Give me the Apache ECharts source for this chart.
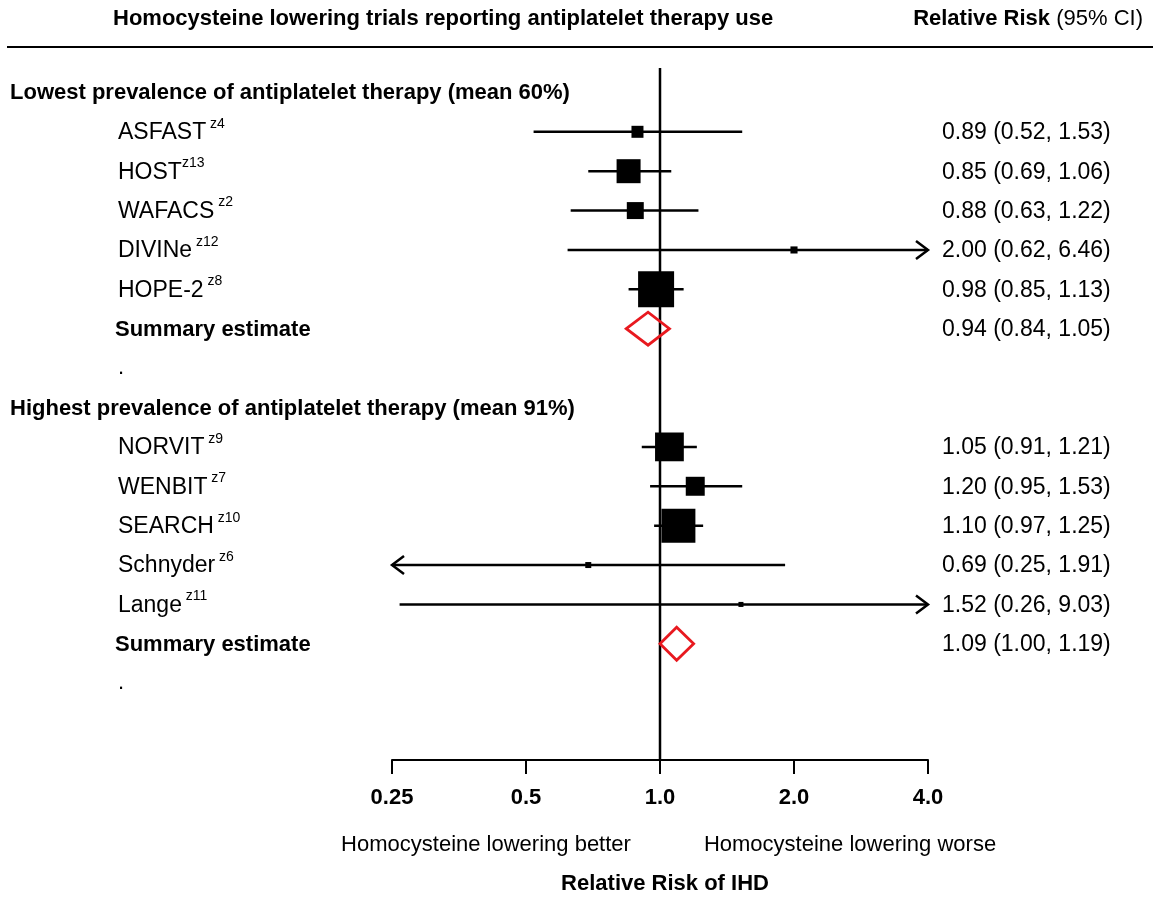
<!DOCTYPE html>
<html>
<head>
<meta charset="utf-8">
<script src="https://cdn.jsdelivr.net/npm/echarts@6/dist/echarts.min.js"></script>
<style>html,body{margin:0;padding:0;background:#fff}#c{width:1153px;height:900px}</style>
</head>
<body>
<div id="c"></div>
<script>
// ---- data ----
const studyNames  = ['ASFAST', 'HOST', 'WAFACS', 'DIVINe', 'HOPE-2', 'NORVIT', 'WENBIT', 'SEARCH', 'Schnyder', 'Lange'];
const studyRefs   = [' z4', 'z13', ' z2', ' z12', ' z8', ' z9', ' z7', ' z10', ' z6', ' z11'];
const studyRow    = [1, 2, 3, 4, 5, 9, 10, 11, 12, 13];
const studyRR     = [0.89, 0.85, 0.88, 2.00, 0.98, 1.05, 1.20, 1.10, 0.69, 1.52];
const studyLo     = [0.52, 0.69, 0.63, 0.62, 0.85, 0.91, 0.95, 0.97, 0.25, 0.26];
const studyHi     = [1.53, 1.06, 1.22, 6.46, 1.13, 1.21, 1.53, 1.25, 1.91, 9.03];
const studyWeight = [4, 16, 8, 1.4, 36, 23, 10, 32, 1, 0.7];

const summaryLabel = 'Summary estimate';
const summaryRow = [6, 14];
const summaryRR  = [0.94, 1.09];
const summaryLo  = [0.84, 1.00];
const summaryHi  = [1.05, 1.19];

const groupHeaders = ['Lowest prevalence of antiplatelet therapy (mean 60%)', 'Highest prevalence of antiplatelet therapy (mean 91%)'];
const headerRow = [0, 8];
const dotRow = [7, 15];

const xTicks = [0.25, 0.5, 1, 2, 4];
const xTickLabels = ['0.25', '0.5', '1.0', '2.0', '4.0'];
const X_MIN = 0.25, X_MAX = 4;

// ---- chart ----
const FONT = '"Liberation Sans", Arial, Helvetica, sans-serif';
const SIDE_K = 6;
const fmt = v => v.toFixed(2);

function txt(x, y, text, extra) {
  return {
    type: 'text',
    style: Object.assign({
      x: x, y: y, text: text, fill: '#000',
      fontFamily: FONT, fontSize: 22,
      align: 'left', textAlign: 'left',
      verticalAlign: 'middle', textVerticalAlign: 'middle'
    }, extra || {})
  };
}

function renderStudy(params, api) {
  const rr = api.value(0), row = api.value(1), lo = api.value(2), hi = api.value(3), w = api.value(4), idx = api.value(5);
  const loC = Math.max(lo, X_MIN), hiC = Math.min(hi, X_MAX);
  const p = api.coord([rr, row]);
  const pl = api.coord([loC, row]);
  const ph = api.coord([hiC, row]);
  const y = p[1];
  const side = SIDE_K * Math.sqrt(w);
  const lw = 2.5;
  const children = [
    { type: 'line', shape: { x1: pl[0], y1: y, x2: ph[0], y2: y }, style: { stroke: '#000', lineWidth: lw } },
    { type: 'rect', shape: { x: p[0] - side / 2, y: y - side / 2, width: side, height: side }, style: { fill: '#000' } }
  ];
  if (hi >= X_MAX) {
    children.push({ type: 'polyline', shape: { points: [[ph[0] - 12, y - 9], [ph[0], y], [ph[0] - 12, y + 9]] }, style: { stroke: '#000', lineWidth: lw, fill: null } });
  }
  if (lo <= X_MIN) {
    children.push({ type: 'polyline', shape: { points: [[pl[0] + 12, y - 9], [pl[0], y], [pl[0] + 12, y + 9]] }, style: { stroke: '#000', lineWidth: lw, fill: null } });
  }
  children.push(txt(118, y + 1, '{n|' + studyNames[idx] + '}{s|' + studyRefs[idx] + '}', {
    rich: {
      n: { fontFamily: FONT, fontSize: 23, lineHeight: 32, fill: '#000', color: '#000' },
      s: { fontFamily: FONT, fontSize: 14, lineHeight: 14, verticalAlign: 'top', fill: '#000', color: '#000' }
    }
  }));
  children.push(txt(942, y + 1, fmt(rr) + ' (' + fmt(lo) + ', ' + fmt(hi) + ')', { fontSize: 23 }));
  return { type: 'group', children: children };
}

function renderSummary(params, api) {
  const rr = api.value(0), row = api.value(1), lo = api.value(2), hi = api.value(3);
  const p = api.coord([rr, row]), pl = api.coord([lo, row]), ph = api.coord([hi, row]);
  const y = p[1], hh = 16.5;
  return {
    type: 'group',
    children: [
      { type: 'polygon', shape: { points: [[pl[0], y], [p[0], y - hh], [ph[0], y], [p[0], y + hh]] }, style: { stroke: '#e8191f', lineWidth: 2.8, fill: null }, z2: 5 },
      txt(115, y + 1, summaryLabel, { fontWeight: 'bold' }),
      txt(942, y + 1, fmt(rr) + ' (' + fmt(lo) + ', ' + fmt(hi) + ')', { fontSize: 23 })
    ]
  };
}

function renderHeader(params, api) {
  const row = api.value(0), idx = api.value(1), kind = api.value(2);
  const y = api.coord([1, row])[1];
  if (kind === 0) return txt(10, y + 1, groupHeaders[idx], { fontWeight: 'bold' });
  return txt(118, y, '.');
}

const studyData = studyRR.map((v, i) => [v, studyRow[i], studyLo[i], studyHi[i], studyWeight[i], i]);
const summaryData = summaryRR.map((v, i) => [v, summaryRow[i], summaryLo[i], summaryHi[i]]);
const headerData = headerRow.map((r, i) => [r, i, 0]).concat(dotRow.map((r, i) => [r, i, 1]));

const chart = echarts.init(document.getElementById('c'), null, { renderer: 'canvas' });
chart.setOption({
  backgroundColor: '#fff',
  animation: false,
  grid: { left: 392, right: 225, top: 68, bottom: 134, containLabel: false },
  xAxis: {
    type: 'log', logBase: 2, min: X_MIN, max: X_MAX,
    splitLine: { show: false },
    minorTick: { show: false },
    axisLine: { show: true, onZero: false, lineStyle: { color: '#000', width: 2 } },
    axisTick: { show: true, length: 14, lineStyle: { color: '#000', width: 2 } },
    axisLabel: {
      margin: 27, color: '#000', fontFamily: FONT, fontSize: 22, fontWeight: 'bold',
      formatter: function (v) {
        for (let i = 0; i < xTicks.length; i++) if (Math.abs(v - xTicks[i]) < 1e-6) return xTickLabels[i];
        return '';
      }
    },
    name: 'Relative Risk of IHD', nameLocation: 'middle', nameGap: 113,
    nameTextStyle: { color: '#000', fontFamily: FONT, fontSize: 22, fontWeight: 'bold', padding: [0, 0, 0, 10] }
  },
  yAxis: { type: 'value', min: -0.62, max: 16.95, inverse: true, show: false, splitLine: { show: false } },
  graphic: [
    txt(113, 19, 'Homocysteine lowering trials reporting antiplatelet therapy use', { fontWeight: 'bold' }),
    txt(1143, 19, '{b|Relative Risk} {n|(95% CI)}', {
      align: 'right', textAlign: 'right',
      rich: {
        b: { fontFamily: FONT, fontSize: 22, fontWeight: 'bold', fill: '#000', color: '#000' },
        n: { fontFamily: FONT, fontSize: 22, fill: '#000', color: '#000' }
      }
    }),
    { type: 'line', shape: { x1: 7, y1: 47, x2: 1153, y2: 47 }, style: { stroke: '#000', lineWidth: 2 } },
    txt(486, 845, 'Homocysteine lowering better', { align: 'center', textAlign: 'center' }),
    txt(850, 845, 'Homocysteine lowering worse', { align: 'center', textAlign: 'center' })
  ],
  series: [
    {
      type: 'line', z: 1, symbol: 'none', silent: true,
      data: [[1, -0.62], [1, 16.95]],
      lineStyle: { color: '#000', width: 2.5 }
    },
    { type: 'custom', z: 2, clip: false, silent: true, renderItem: renderStudy, data: studyData, encode: { x: 0, y: 1 } },
    { type: 'custom', z: 3, clip: false, silent: true, renderItem: renderSummary, data: summaryData, encode: { x: 0, y: 1 } },
    { type: 'custom', z: 2, clip: false, silent: true, renderItem: renderHeader, data: headerData, encode: { x: 0, y: 0 } }
  ]
});
</script>
</body>
</html>
